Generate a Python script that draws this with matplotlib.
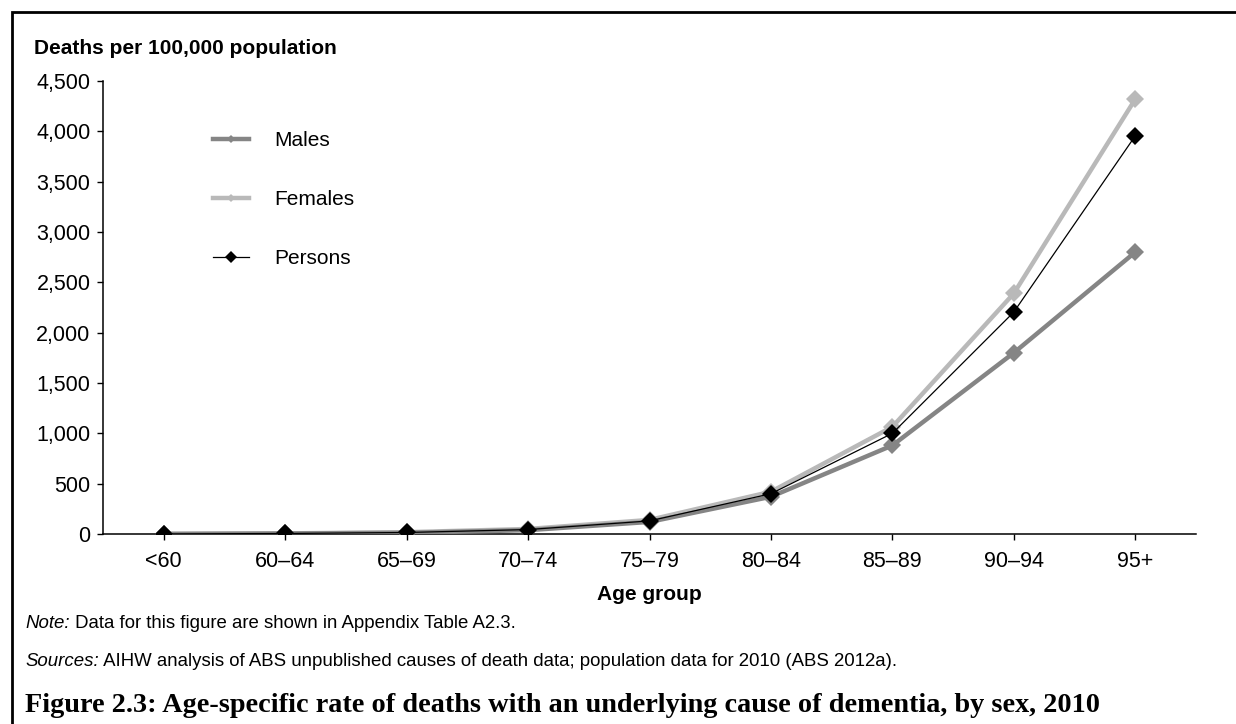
import matplotlib
matplotlib.use("Agg")
import matplotlib.pyplot as plt
from matplotlib.lines import Line2D
from matplotlib.patches import Rectangle

plt.rcParams["font.family"] = ["Liberation Sans", "DejaVu Sans"]

# data (deaths per 100,000 population, 2010)
age_groups = ["<60", "60–64", "65–69", "70–74", "75–79", "80–84", "85–89", "90–94", "95+"]
males = [1, 5, 12, 38, 120, 370, 880, 1800, 2800]
females = [1, 6, 18, 50, 140, 420, 1065, 2390, 4320]
persons = [1, 5, 15, 44, 130, 400, 1000, 2205, 3955]
y_ticks = [0, 500, 1000, 1500, 2000, 2500, 3000, 3500, 4000, 4500]

male_col = "#858585"
female_col = "#b9b9b9"

fig = plt.figure(figsize=(12.36, 7.24), dpi=100)
ax = fig.add_axes([103 / 1236, 1 - 534 / 724, (1196 - 103) / 1236, (534 - 81) / 724])

x = list(range(len(age_groups)))
ax.plot(x, females, color=female_col, lw=3.2, marker="D", ms=9, mew=0, zorder=3)
ax.plot(x, males, color=male_col, lw=3.2, marker="D", ms=9, mew=0, zorder=4)
ax.plot(x, persons, color="black", lw=0.9, marker="D", ms=9.5, mew=0, zorder=5)

ax.set_xlim(-0.5, len(age_groups) - 0.5)
ax.set_ylim(0, 4500)
ax.set_xticks(x)
ax.set_xticklabels(age_groups)
ax.set_yticks(y_ticks)
ax.set_yticklabels([f"{v:,}" for v in y_ticks])
ax.tick_params(axis="both", labelsize=15.5, length=4.5, width=1, direction="out", color="black")
ax.tick_params(axis="y", pad=4.5)
ax.tick_params(axis="x", pad=8)
for side in ["top", "right"]:
    ax.spines[side].set_visible(False)
for side in ["left", "bottom"]:
    ax.spines[side].set_linewidth(1.1)
    ax.spines[side].set_color("black")

ax.set_xlabel("Age group", fontsize=15, fontweight="bold", labelpad=9)
fig.text(34 / 1236, 1 - 48 / 724, "Deaths per 100,000 population", fontsize=15,
         fontweight="bold", va="center", ha="left")

handles = [
    Line2D([], [], color=male_col, lw=3.2, marker="D", ms=4, mew=0),
    Line2D([], [], color=female_col, lw=3.2, marker="D", ms=4, mew=0),
    Line2D([], [], color="black", lw=0.9, marker="D", ms=6, mew=0),
]
fig.legend(handles, ["Males", "Females", "Persons"], loc="upper left",
           bbox_to_anchor=(213 / 1236, 1 - 131 / 724), frameon=False, fontsize=15,
           handlelength=1.75, handletextpad=1.2, labelspacing=1.93,
           borderpad=0, borderaxespad=0)

# notes below the chart
note_lbl = fig.text(25 / 1236, 1 - 623 / 724, "Note:", fontsize=13.4, style="italic", va="center")
plt.annotate(" Data for this figure are shown in Appendix Table A2.3.", xy=(1, 0),
             xycoords=note_lbl, va="bottom", ha="left", fontsize=13.4)
src_lbl = fig.text(25 / 1236, 1 - 662 / 724, "Sources:", fontsize=13.4, style="italic", va="center")
plt.annotate(" AIHW analysis of ABS unpublished causes of death data; population data for 2010 (ABS 2012a).",
             xy=(1, 0), xycoords=src_lbl, va="bottom", ha="left", fontsize=13.4)

fig.text(25 / 1236, 1 - 705 / 724,
         "Figure 2.3: Age-specific rate of deaths with an underlying cause of dementia, by sex, 2010",
         fontsize=20.3, fontweight="bold", family="Liberation Serif", va="center", ha="left")

# frame around the chart area
fig.add_artist(Rectangle((11.5 / 1236, -0.1), 1.2, 1.1 - 12.5 / 724, transform=fig.transFigure,
                         fill=False, edgecolor="black", lw=2))

fig.savefig("out.png", dpi=100)
